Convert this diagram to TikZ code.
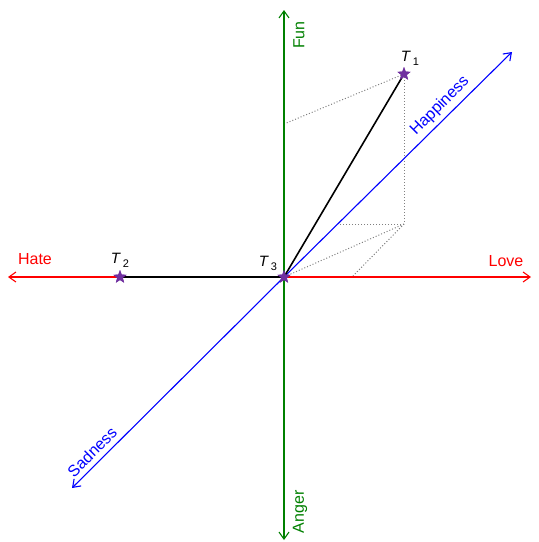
\documentclass[tikz,border=0pt]{standalone}
\usepackage{fontspec}
\setmainfont{Liberation Sans}
\usetikzlibrary{shapes.geometric,arrows.meta}
\definecolor{axgreen}{RGB}{0,128,0}
\definecolor{starpurple}{RGB}{112,48,160}
\tikzset{
  axis/.style={line width=1.1pt,-{Straight Barb[length=7pt,width=10pt]}},
  axlabel/.style={font=\fontsize{16}{19}\selectfont,inner sep=0pt},
  tlabel/.style={font=\fontsize{15}{18}\selectfont,inner sep=0pt},
  pt/.style={star,star points=5,star point ratio=2.4,fill=starpurple,draw=none,minimum size=14pt,inner sep=0pt},
  proj/.style={gray,dotted,line width=1pt},
  vec/.style={black,line width=1.6pt}
}
\newcommand{\Tsub}[1]{\textit{T}\hspace{2pt}\raisebox{-4pt}{\fontsize{11}{13}\selectfont #1}}
\begin{document}
\begin{tikzpicture}[x=1pt,y=-1pt]
\useasboundingbox (0,0) rectangle (539,542);
% axis ends
\coordinate (O) at (284,277);
\coordinate (L) at (531,277);
\coordinate (H) at (8,277);
\coordinate (F) at (284,10);
\coordinate (A) at (284,540);
\coordinate (Hp) at (512,52);
\coordinate (Sd) at (72,488);
% projection helpers
\coordinate (P1) at (404,224);
\coordinate (Pf) at (284,124);
\coordinate (Pd) at (338,224);
\coordinate (Pl) at (352,277);
% dotted projections
\draw[proj] (404,74) -- (Pf);
\draw[proj] (404,74) -- (P1);
\draw[proj] (P1) -- (Pd);
\draw[proj] (P1) -- (O);
\draw[proj] (P1) -- (Pl);
% axes
\draw[axis,red] (O) -- (L);
\draw[axis,red] (O) -- (H);
\draw[axis,axgreen] (O) -- (F);
\draw[axis,axgreen] (O) -- (A);
\draw[axis,blue] (O) -- (Hp);
\draw[axis,blue] (O) -- (Sd);
% points
\node[pt] (t1) at (404,74) {};
\node[pt] (t2) at (120,277) {};
\node[pt] (t3) at (284,277) {};
\draw[vec] (t3.center) -- (t1.center);
\draw[vec] (t3.center) -- (t2.center);
\node[pt] at (t1.center) {};
\node[pt] at (t2.center) {};
\node[pt] at (t3.center) {};
% labels
\node[axlabel,red] (lh) at (35,259) {Hate};
\node[axlabel,red] (ll) at (506,261) {Love};
\node[axlabel,axgreen,rotate=90] (lf) at (299,35) {Fun};
\node[axlabel,axgreen,rotate=90] (la) at (300,512) {Anger};
\node[axlabel,blue,rotate=45] (lhp) at (440,106) {Happiness};
\node[axlabel,blue,rotate=45] (ls) at (92,452) {Sadness};
\node[tlabel] (lt1) at (410,58) {\Tsub{1}};
\node[tlabel] (lt2) at (120,260) {\Tsub{2}};
\node[tlabel] (lt3) at (268,263) {\Tsub{3}};
\end{tikzpicture}
\end{document}
